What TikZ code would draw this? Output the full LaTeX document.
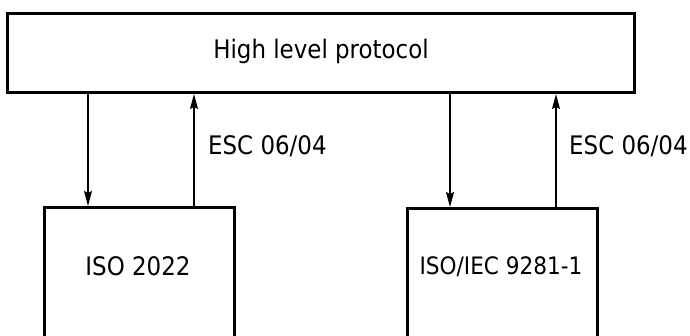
\documentclass[tikz,border=0pt]{standalone}
\usepackage{fontspec}
\setmainfont{DejaVu Sans Condensed}
\usetikzlibrary{arrows.meta}
\begin{document}
\begin{tikzpicture}[x=1pt,y=-1pt,
  box/.style={draw, line width=3pt, inner sep=0pt, anchor=north west},
  arr/.style={line width=1.5pt, -{Stealth[length=15pt,width=8pt,inset=2pt]}},
  lbl/.style={font=\fontsize{25.5}{31}\selectfont, inner sep=0pt},
  esc/.style={lbl, anchor=west}]
\useasboundingbox (0,0) rectangle (690,335);
\node[box, minimum width=627pt, minimum height=79pt] (hlp) at (6,12) {};
\node[lbl] at ([yshift=2pt]hlp.center) {High level protocol};
\node[box, minimum width=190pt, minimum height=150pt] (iso) at (43,206) {};
\node[lbl] (isot) at (138,266) {ISO 2022};
\node[box, minimum width=190pt, minimum height=150pt] (iec) at (406,207) {};
\node[lbl, font=\fontsize{24}{29}\selectfont] (iect) at (501,267) {ISO/IEC 9281-1};
\coordinate (a1) at (88,0);
\coordinate (a2) at (194,0);
\coordinate (a3) at (450,0);
\coordinate (a4) at (556,0);
\draw[arr] (hlp.south -| a1) -- (iso.north -| a1);
\draw[arr] (iso.north -| a2) -- (hlp.south -| a2);
\draw[arr] (hlp.south -| a3) -- (iec.north -| a3);
\draw[arr] (iec.north -| a4) -- (hlp.south -| a4);
\node[esc] at (208,146) {ESC 06/04};
\node[esc] at (569,146) {ESC 06/04};
\end{tikzpicture}
\end{document}
